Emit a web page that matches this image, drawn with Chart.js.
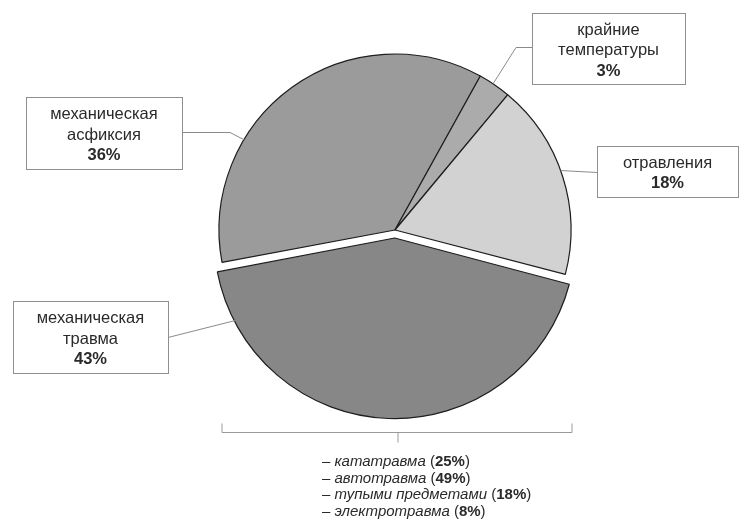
<!DOCTYPE html>
<html lang="ru">
<head>
<meta charset="utf-8">
<title>Причины смерти</title>
<script src="https://cdn.jsdelivr.net/npm/chart.js@4.4.1/dist/chart.umd.min.js"></script>
<style>
  html, body { margin: 0; padding: 0; background: #fff; }
  #wrap { position: relative; width: 739px; height: 519px; }
</style>
</head>
<body>
<div id="wrap"><canvas id="pieChart"></canvas></div>
<script>
const categories = ['механическая асфиксия', 'крайние температуры', 'отравления', 'механическая травма'];
const labelLines = [['механическая', 'асфиксия'], ['крайние', 'температуры'], ['отравления'], ['механическая', 'травма']];
const shares = [36, 3, 18, 43];
const sliceColors = ['#9b9b9b', '#ababab', '#d2d2d2', '#878787'];

const subCategories = ['кататравма', 'автотравма', 'тупыми предметами', 'электротравма'];
const subShares = [25, 49, 18, 8];

const FONT = '"Liberation Sans", Arial, sans-serif';

// callout boxes: [left, top, width, height], start of leader, optional elbow, t = where on the slice edge it lands
const callouts = [
  {rect: [26, 97, 156, 72], from: [182, 132], elbow: [230, 132], t: 0.32},
  {rect: [532, 13, 153, 71], from: [532, 47], elbow: [516, 47], t: 0.45},
  {rect: [597, 146, 141, 51], from: [597, 172], elbow: null, t: 0.47},
  {rect: [13, 301, 155, 72], from: [168, 337], elbow: null, t: 0.89}
];

// roughly the shift chart.js gives an offset arc
function arcShift(arc) {
  const d = (arc.options.offset || 0) / 4;
  const mid = (arc.startAngle + arc.endAngle) / 2;
  return [Math.cos(mid) * d, Math.sin(mid) * d];
}

const calloutPlugin = {
  id: 'callouts',
  afterDraw(chart) {
    const c = chart.ctx;
    const arcs = chart.getDatasetMeta(0).data;
    c.save();
    arcs.forEach((arc, i) => {
      const co = callouts[i];
      const [sx, sy] = arcShift(arc);
      const a = arc.startAngle + co.t * (arc.endAngle - arc.startAngle);
      const ax = arc.x + sx + Math.cos(a) * arc.outerRadius;
      const ay = arc.y + sy + Math.sin(a) * arc.outerRadius;

      // leader line
      c.strokeStyle = '#8a8a8a';
      c.lineWidth = 1;
      c.beginPath();
      c.moveTo(co.from[0], co.from[1] + 0.5);
      if (co.elbow) c.lineTo(co.elbow[0], co.elbow[1] + 0.5);
      c.lineTo(ax, ay);
      c.stroke();

      // box
      const [x, y, w, h] = co.rect;
      c.fillStyle = '#fff';
      c.fillRect(x, y, w, h);
      c.strokeStyle = '#8f8f8f';
      c.strokeRect(x + 0.5, y + 0.5, w, h);

      // text
      const lines = labelLines[i].concat([shares[i] + '%']);
      const lh = 20.5;
      const cx = x + w / 2;
      const cy = y + h / 2 + 2;
      c.fillStyle = '#2a2a2a';
      c.textAlign = 'center';
      c.textBaseline = 'middle';
      lines.forEach((ln, k) => {
        const bold = k === lines.length - 1;
        c.font = (bold ? 'bold ' : '') + '16.5px ' + FONT;
        c.fillText(ln, cx, cy + (k - (lines.length - 1) / 2) * lh);
      });
    });

    // bracket under the pie
    const ref = arcs[0];
    const left = ref.x - ref.outerRadius + 3;
    const right = ref.x + ref.outerRadius + 1;
    const by = 432.5;
    c.strokeStyle = '#9a9a9a';
    c.beginPath();
    c.moveTo(left, by - 9);
    c.lineTo(left, by);
    c.lineTo(right, by);
    c.lineTo(right, by - 9);
    c.moveTo(ref.x + 3, by);
    c.lineTo(ref.x + 3, by + 10);
    c.stroke();

    // breakdown list
    c.textAlign = 'left';
    c.textBaseline = 'middle';
    c.fillStyle = '#2a2a2a';
    subCategories.forEach((name, k) => {
      let px = 322;
      const py = 462 + k * 16.5;
      const parts = [
        ['– ', ''],
        [name, 'italic '],
        [' (', ''],
        [subShares[k] + '%', 'bold '],
        [')', '']
      ];
      parts.forEach(([txt, style]) => {
        c.font = style + '15px ' + FONT;
        c.fillText(txt, px, py);
        px += c.measureText(txt).width;
      });
    });
    c.restore();
  }
};

const chart = new Chart(document.getElementById('pieChart').getContext('2d'), {
  type: 'pie',
  data: {
    labels: categories,
    datasets: [{
      data: shares,
      backgroundColor: sliceColors,
      borderColor: '#1e1e1e',
      borderWidth: 1.2,
      offset: [0, 0, 0, 32]
    }]
  },
  options: {
    responsive: true,
    maintainAspectRatio: false,
    animation: false,
    events: [],
    rotation: -100.6,
    radius: 176,
    layout: { padding: { left: 51, right: 0, top: 0, bottom: 59 } },
    plugins: {
      legend: { display: false },
      tooltip: { enabled: false }
    }
  },
  plugins: [calloutPlugin]
});
</script>
</body>
</html>
